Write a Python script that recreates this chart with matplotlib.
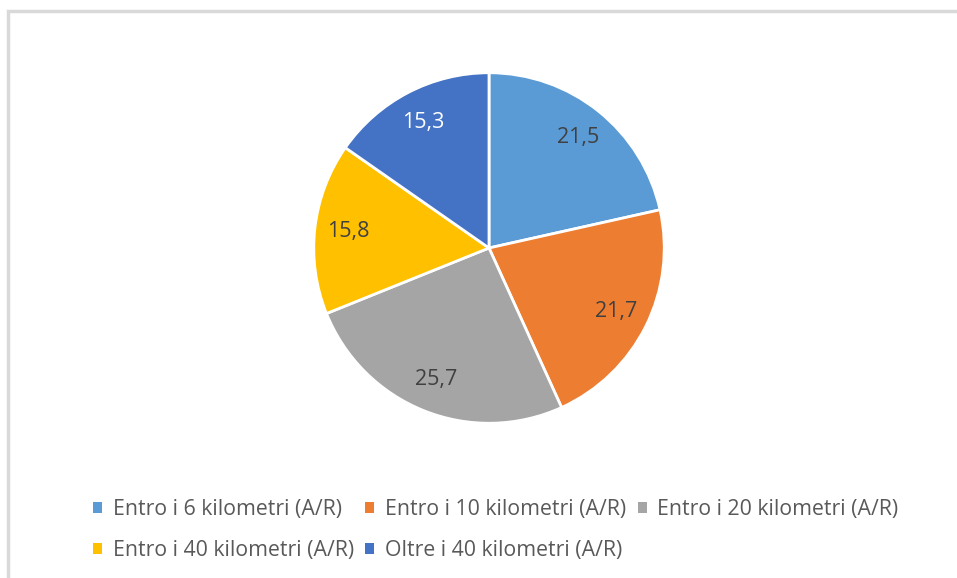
import matplotlib.pyplot as plt
from matplotlib.patches import Rectangle

# distances (share of trips, %)
categories = ['Entro i 6 kilometri (A/R)', 'Entro i 10 kilometri (A/R)',
              'Entro i 20 kilometri (A/R)', 'Entro i 40 kilometri (A/R)',
              'Oltre i 40 kilometri (A/R)']
values = [21.5, 21.7, 25.7, 15.8, 15.3]
colors = ['#5B9BD5', '#ED7D31', '#A5A5A5', '#FFC000', '#4472C4']
label_colors = ['#404040', '#404040', '#404040', '#404040', '#FFFFFF']

W, H = 957, 578
fig = plt.figure(figsize=(W / 100, H / 100), dpi=100)
plt.rcParams['font.family'] = ['Open Sans', 'DejaVu Sans']

# light grey chart-area frame (only left/top visible in the crop)
fig.patches.append(Rectangle((8 / W, -0.1), 1.2, (H - 11) / H + 0.1,
                             transform=fig.transFigure, fill=False,
                             edgecolor='#D9D9D9', linewidth=2.5))

cx, cy, r = 489, 248, 177
ax = fig.add_axes([(cx - r) / W, (H - cy - r) / H, 2 * r / W, 2 * r / H])
labels = [f'{v:.1f}'.replace('.', ',') for v in values]
wedges, texts = ax.pie(values, colors=colors, startangle=90, counterclock=False,
                       labels=labels, labeldistance=0.81,
                       wedgeprops=dict(edgecolor='white', linewidth=2))
for t, c in zip(texts, label_colors):
    t.set_color(c)
    t.set_fontsize(15.5)
    t.set_ha('center')
    t.set_va('center')
ax.set_xlim(-1.01, 1.01)
ax.set_ylim(-1.01, 1.01)

# legend fills column-wise; reorder so it reads row by row like Excel
order = [0, 3, 1, 4, 2]
handles = [Rectangle((0, 0), 1, 1, facecolor=colors[i], edgecolor='none') for i in order]
leg = fig.legend(handles, [categories[i] for i in order],
                 ncol=3, loc='upper left',
                 bbox_to_anchor=(93 / W, 1 - 499 / H), frameon=False,
                 fontsize=15.3, handlelength=0.42, handleheight=0.42,
                 handletextpad=0.5, columnspacing=0.55, labelspacing=0.95,
                 borderaxespad=0, borderpad=0)
for t in leg.get_texts():
    t.set_color('#595959')

fig.savefig('out.png', dpi=100)
